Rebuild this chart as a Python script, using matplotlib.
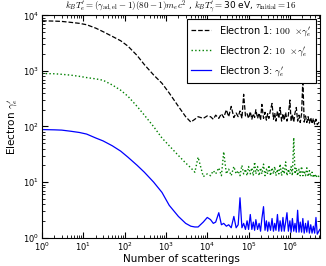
import matplotlib
matplotlib.use("Agg")
import matplotlib.pyplot as plt

plt.rcParams['mathtext.fontset'] = 'cm'

# number of scatterings (shared by all three electrons)
n_scat = [1, 2, 3, 5, 8, 12, 20, 30, 50, 80, 120, 200, 300, 500, 800, 1200, 2000, 3000, 4000, 5000, 6000, 8000, 1.0e4,
          1.2e4, 1.4e4, 1.6e4, 1.9e4, 2.2e4, 2.5e4, 2.9e4, 3.3e4, 3.8e4, 4.4e4, 5.0e4, 5.6e4, 6.2e4, 6.9e4, 7.6e4, 8.4e4,
          9.2e4, 1.0e5, 1.1e5, 1.2e5, 1.3e5, 1.4e5, 1.5e5, 1.65e5, 1.8e5, 1.95e5, 2.1e5, 2.3e5, 2.5e5, 2.7e5, 2.9e5,
          3.1e5, 3.4e5, 3.7e5, 4.0e5, 4.3e5, 4.6e5, 5.0e5, 5.4e5, 5.8e5, 6.3e5, 6.8e5, 7.3e5, 7.9e5, 8.5e5, 9.2e5,
          1.0e6, 1.07e6, 1.15e6, 1.24e6, 1.33e6, 1.43e6, 1.54e6, 1.66e6, 1.78e6, 1.92e6, 2.06e6, 2.22e6, 2.39e6,
          2.57e6, 2.76e6, 2.97e6, 3.2e6, 3.44e6, 3.7e6, 3.98e6, 4.28e6, 4.6e6, 5.3e6]

# electron 1 (x100)
gamma_e1 = [8000, 7900, 7800, 7500, 7200, 6800, 5900, 5100, 4200, 3500, 2800, 1900, 1300, 850, 600, 400, 230, 150, 120,
            135, 150, 140, 155,
            150, 135, 160, 140, 170, 145, 200, 150, 230, 145, 175, 150, 190, 140, 380, 155, 170, 140, 185, 135, 170,
            145, 200, 140, 175, 130, 250, 140, 180, 130, 170, 140, 200, 260, 135, 175, 125, 190, 140, 220, 125, 170,
            130, 180, 125, 160, 300, 125, 165, 120, 175, 220, 125, 160, 118, 170, 700, 120, 155, 118, 150, 115, 145,
            112, 140, 110, 135, 108, 125]

# electron 2 (x10)
gamma_e2 = [900, 890, 870, 840, 800, 760, 720, 680, 560, 450, 350, 230, 160, 100, 62, 45, 30, 22, 18, 15, 28, 12.5, 14,
            13, 16, 14, 18, 13, 35, 14, 17, 13, 19, 14, 16, 13, 20, 14, 17, 13, 19, 14, 18, 13, 23, 14, 19, 13, 18,
            14, 21, 13, 17, 14, 20, 13, 18, 14, 19, 13, 17, 14, 21, 13, 18, 14, 23, 13, 17, 14, 19, 13, 63, 14, 18,
            13, 17, 13, 19, 13, 16, 13, 18, 12.5, 16, 12.5, 15, 12, 14, 12, 13.5, 12]

# electron 3
gamma_e3 = [88, 87, 86, 82, 78, 73, 62, 55, 45, 36, 28, 20, 15, 10, 6.5, 3.8, 2.4, 1.8, 1.6, 1.55, 1.55, 1.9, 2.3,
            2.1, 1.8, 1.9, 2.8, 1.7, 1.8, 1.6, 1.7, 1.5, 2.4, 1.5, 1.7, 5.2, 1.5, 1.8, 1.4, 2.0, 1.4, 2.6, 1.4, 1.9,
            1.35, 2.1, 1.4, 1.8, 1.3, 2.2, 3.6, 1.35, 2.0, 1.3, 1.9, 1.35, 2.2, 1.3, 1.8, 1.35, 2.6, 1.3, 2.0, 1.3,
            2.3, 1.3, 1.9, 2.8, 1.3, 2.0, 1.25, 2.2, 1.3, 1.8, 1.25, 3.1, 1.25, 1.9, 1.25, 2.2, 1.2, 1.8, 1.25, 2.0,
            1.2, 1.7, 1.2, 1.6, 1.2, 2.3, 1.15, 1.4]

fig = plt.figure(figsize=(3.26, 2.66), dpi=100)
ax = fig.add_axes([0.129, 0.107, 0.853, 0.835])

ax.plot(n_scat, gamma_e1, linestyle='--', color='k', linewidth=0.9, label=r'Electron 1: $100\ \times\!\gamma_e^\prime$')
ax.plot(n_scat, gamma_e2, linestyle=':', color='g', linewidth=1.0, label=r'Electron 2: $10\ \times\!\gamma_e^\prime$')
ax.plot(n_scat, gamma_e3, linestyle='-', color='b', linewidth=0.9, label=r'Electron 3: $\gamma_e^\prime$')

ax.set_xscale('log')
ax.set_yscale('log')
ax.set_xlim(1, 5.4e6)
ax.set_ylim(1, 1e4)
ax.tick_params(which='both', direction='in', top=True, right=True, labelsize=6, pad=2)
ax.tick_params(which='major', length=4)
ax.tick_params(which='minor', length=2)
ax.set_xlabel('Number of scatterings', fontsize=7.5, labelpad=1)
ax.set_ylabel(r'Electron $\gamma_e^\prime$', fontsize=7.5, labelpad=2)
ax.set_title(r'$k_BT_e^\prime=(\gamma_{\rm ad,el}-1)(80-1)m_ec^2$ , $k_BT_\gamma^\prime=$30 eV, $\tau_{\rm initial}=16$',
             fontsize=6.5, pad=1)

leg = ax.legend(loc='upper right', fontsize=7, fancybox=False, edgecolor='k', framealpha=1,
                handlelength=2, labelspacing=0.6, borderaxespad=0.4, borderpad=0.5)
leg.get_frame().set_linewidth(0.8)

fig.savefig('out.png', dpi=100)
